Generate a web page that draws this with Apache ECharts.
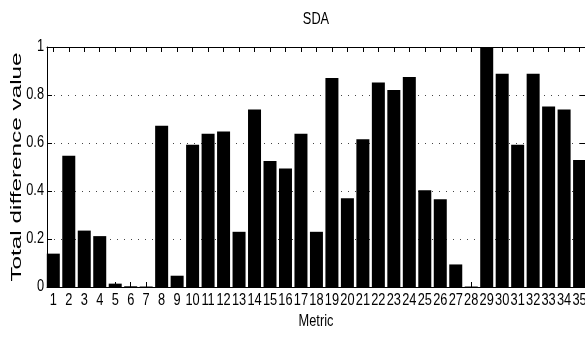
<!DOCTYPE html>
<html>
<head>
<meta charset="utf-8">
<script src="https://cdn.jsdelivr.net/npm/echarts@6/dist/echarts.min.js"></script>
<style>
  html, body { margin: 0; padding: 0; background: #fff; }
  #app { width: 585px; height: 348px; }
</style>
</head>
<body>
<div id="app"></div>
<script>
// categories on the x axis
const metrics = [1, 2, 3, 4, 5, 6, 7, 8, 9, 10, 11, 12, 13, 14, 15, 16, 17, 18,
  19, 20, 21, 22, 23, 24, 25, 26, 27, 28, 29, 30, 31, 32, 33, 34, 35];
// total difference value per metric
const sdaValues = [0.139, 0.547, 0.235, 0.212, 0.014, 0.003, 0.002, 0.672, 0.047, 0.593,
  0.639, 0.648, 0.230, 0.740, 0.525, 0.494, 0.639, 0.230, 0.871, 0.370,
  0.616, 0.852, 0.821, 0.875, 0.403, 0.366, 0.094, 0.002, 1.0, 0.889,
  0.593, 0.889, 0.752, 0.740, 0.529];
const yTicks = [0, 0.2, 0.4, 0.6, 0.8, 1];
const yTickLabels = ['0', '0.2', '0.4', '0.6', '0.8', '1'];

const sans = '"Liberation Sans", Arial, sans-serif';
const xMin = 0.593, xMax = 35.35;

const chart = echarts.init(document.getElementById('app'));

// narrow looking text (no narrow font installed, so squeeze the regular one)
function narrowText(text, x, y, size, align, vAlign) {
  return {
    type: 'text', x: x, y: y, scaleX: 0.8, silent: true,
    style: { text: text, font: size + 'px ' + sans, fill: '#000', align: align, verticalAlign: vAlign }
  };
}

chart.setOption({
  animation: false,
  backgroundColor: '#fff',
  grid: { left: 47, right: 0, top: 47, bottom: 61 },
  xAxis: [{
    type: 'value',
    min: xMin,
    max: xMax,
    axisLine: { onZero: false, lineStyle: { color: '#000', width: 1 } },
    axisTick: { inside: true, length: 5, customValues: metrics, lineStyle: { color: '#000' } },
    axisLabel: { show: false },
    splitLine: { show: false }
  }, {
    type: 'value',
    position: 'top',
    min: xMin,
    max: xMax,
    axisLine: { onZero: false, lineStyle: { color: '#000', width: 1 } },
    axisTick: { inside: true, length: 5, customValues: metrics, lineStyle: { color: '#000' } },
    axisLabel: { show: false },
    splitLine: { show: false }
  }],
  yAxis: [{
    type: 'value',
    min: 0,
    max: 1,
    interval: 0.2,
    axisLine: { show: true, onZero: false, lineStyle: { color: '#000', width: 1 } },
    axisTick: { show: true, inside: true, length: 5, lineStyle: { color: '#000' } },
    axisLabel: { show: false },
    splitLine: { show: true, lineStyle: { color: '#444', type: [1, 6], width: 1 } }
  }, {
    type: 'value',
    position: 'right',
    min: 0,
    max: 1,
    interval: 0.2,
    axisLine: { show: true, onZero: false, lineStyle: { color: '#000', width: 1 } },
    axisTick: { show: true, inside: true, length: 5, lineStyle: { color: '#000' } },
    axisLabel: { show: false },
    splitLine: { show: false }
  }],
  series: [{
    type: 'bar',
    xAxisIndex: 0,
    yAxisIndex: 0,
    barWidth: 13,
    itemStyle: { color: '#000' },
    data: metrics.map((m, i) => [m, sdaValues[i]])
  }]
});

// tick labels and titles placed through the axes' own scales
const graphics = [];
const baseY = chart.convertToPixel({ yAxisIndex: 0 }, 0);
const topY = chart.convertToPixel({ yAxisIndex: 0 }, 1);
const leftX = chart.convertToPixel({ xAxisIndex: 0 }, xMin);
const rightX = chart.convertToPixel({ xAxisIndex: 0 }, xMax);
const midX = (leftX + rightX) / 2;

metrics.forEach(m => {
  graphics.push(narrowText(String(m), chart.convertToPixel({ xAxisIndex: 0 }, m), baseY + 6, 16, 'center', 'top'));
});
yTicks.forEach((v, i) => {
  graphics.push(narrowText(yTickLabels[i], leftX - 3, chart.convertToPixel({ yAxisIndex: 0 }, v), 16, 'right', 'middle'));
});
graphics.push(narrowText('SDA', midX, topY - 27, 16, 'center', 'middle'));
graphics.push(narrowText('Metric', midX, baseY + 35, 16, 'center', 'middle'));
graphics.push({
  type: 'text',
  x: 17,
  y: (baseY + topY) / 2,
  rotation: Math.PI / 2,
  scaleX: 1.62,
  silent: true,
  style: { text: 'Total difference value', font: '15px ' + sans, fill: '#000', align: 'center', verticalAlign: 'middle' }
});
chart.setOption({ graphic: graphics });
</script>
</body>
</html>
